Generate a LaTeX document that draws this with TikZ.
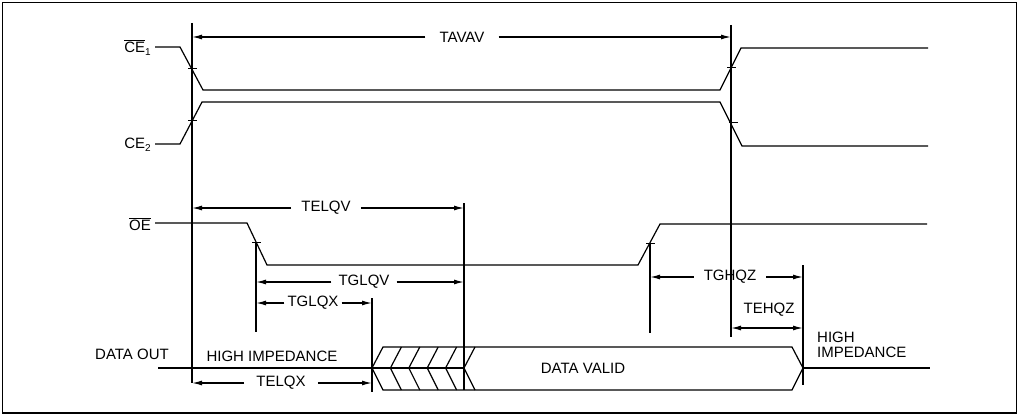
\documentclass[tikz,border=0pt]{standalone}
\usepackage{fontspec}
\setmainfont{Liberation Sans}
\usetikzlibrary{arrows.meta}
\newcommand{\ovl}[1]{\setbox0\hbox{#1}\rlap{\raisebox{\dimexpr\ht0+1.5pt\relax}{\rule{\wd0}{0.8pt}}}#1}
\newcommand{\sbs}[1]{\raisebox{-0.35ex}{\fontsize{10}{10}\selectfont #1}}
\begin{document}
\begin{tikzpicture}[x=1pt,y=-1pt,
  sig/.style={line width=1.2pt, line join=miter},
  vline/.style={line width=1.4pt},
  tick/.style={line width=1pt},
  arr/.style={line width=1.3pt, -{Latex[length=10pt,width=5pt]}},
  darr/.style={line width=1.3pt, {Latex[length=10pt,width=5pt]}-{Latex[length=10pt,width=5pt]}},
  lbl/.style={font=\fontsize{15}{17}\selectfont, inner sep=1pt},
  dlbl/.style={font=\fontsize{15}{17}\selectfont, inner ysep=1pt, inner xsep=7pt}]
\useasboundingbox (0,0) rectangle (1022,417);
\draw[line width=1.3pt] (2.5,2.5) rectangle (1016.5,413);

% vertical reference lines
\coordinate (v1t) at (192,23);  \coordinate (v1b) at (192,383);
\coordinate (v2t) at (731,25);  \coordinate (v2b) at (731,337);
\coordinate (v3t) at (464,203); \coordinate (v3b) at (464,390);
\coordinate (v4t) at (256,242); \coordinate (v4b) at (256,332);
\coordinate (v5t) at (650,243); \coordinate (v5b) at (650,333);
\coordinate (v6t) at (372,298); \coordinate (v6b) at (372,392);
\coordinate (v7t) at (803,265); \coordinate (v7b) at (803,385);
\foreach \v in {v1,v2,v3,v4,v5,v6,v7} \draw[vline] (\v t) -- (\v b);

% signal labels
\node[lbl, anchor=east] (lce1) at (152,48) {\ovl{CE}\sbs{1}};
\node[lbl, anchor=east] (lce2) at (152,145) {CE\sbs{2}};
\node[lbl, anchor=east] (loe) at (152,224) {\ovl{OE}};
\node[lbl] (ldo) at (132,354) {DATA OUT};

% CE1
\draw[sig] (lce1.east) ++(3,-1) coordinate (ce1s) -- (180,47) -- (203,90) -- (720,90) -- (741,48) -- (928,48) coordinate (ce1e);
% CE2
\draw[sig] (lce2.east) ++(3,-1) coordinate (ce2s) -- (180,144) -- (202,102) -- (720,102) -- (742,146) -- (928,146) coordinate (ce2e);
% OE
\draw[sig] (loe.east) ++(3,-1) coordinate (oes) -- (247,223) -- (267,265) -- (638,265) -- (660,224) -- (927,224) coordinate (oee);

% ticks
\draw[tick] (188,69) -- (197,69);
\draw[tick] (188,121) -- (197,121);
\draw[tick] (727,68) -- (736,68);
\draw[tick] (729,123) -- (738,123);
\draw[tick] (252,242) -- (261,242);
\draw[tick] (646,243) -- (655,243);

% TAVAV
\node[dlbl, inner xsep=14pt] (tavav) at (462,37) {TAVAV};
\draw[arr] (tavav.west) -- (v1t |- tavav);
\draw[arr] (tavav.east) -- (v2t |- tavav);
% TELQV
\node[dlbl, inner xsep=10pt] (telqv) at (326,208) {TELQV};
\draw[arr] (telqv.west) -- (v1t |- telqv);
\draw[arr] (telqv.east) -- (v3t |- telqv);
% TGLQV
\node[dlbl] (tglqv) at (364,282) {TGLQV};
\draw[arr] (tglqv.west) -- (v4t |- tglqv);
\draw[arr] (tglqv.east) -- (v3t |- tglqv);
% TGLQX
\node[dlbl, inner xsep=3pt] (tglqx) at (313,303) {TGLQX};
\draw[arr] (tglqx.west) -- (v4t |- tglqx);
\draw[arr] (tglqx.east) -- (v6t |- tglqx);
% TELQX
\node[dlbl, inner xsep=12pt] (telqx) at (281,383) {TELQX};
\draw[arr] (telqx.west) -- (v1b |- telqx);
\draw[arr] (telqx.east) -- (v6t |- telqx);
% TGHQZ
\node[dlbl, inner xsep=10pt] (tghqz) at (730,277) {TGHQZ};
\draw[arr] (tghqz.west) -- (v5t |- tghqz);
\draw[arr] (tghqz.east) -- (v7t |- tghqz);
% TEHQZ
\node[lbl] (tehqz) at (769,310) {TEHQZ};
\coordinate (tehqzy) at (769,328);
\draw[darr] (v2t |- tehqzy) -- (v7t |- tehqzy);

% data out band
\draw[sig] (ldo.east |- 0,368) ++(-12,0) coordinate (dos) -- (v3t |- 0,368);
\draw[sig] (383,347) -- (792,347) -- (v7t |- 0,368) -- (792,390) -- (383,390) -- (v6t |- 0,368) -- cycle;
\foreach \i in {1,...,5} {
  \draw[sig] ({383+18.4*\i},347) -- ({372+18.4*\i},368) -- ({383+18.4*\i},390);
}
\draw[sig] (v7t |- 0,368) -- (930,368) coordinate (hie);

\node[lbl] (hi1) at (272,356) {HIGH IMPEDANCE};
\node[lbl] (dv) at (583,368) {DATA VALID};
\node[lbl, anchor=west, align=left, font=\fontsize{15}{15}\selectfont] (hi2) at (816,345) {HIGH\\IMPEDANCE};
\end{tikzpicture}
\end{document}
